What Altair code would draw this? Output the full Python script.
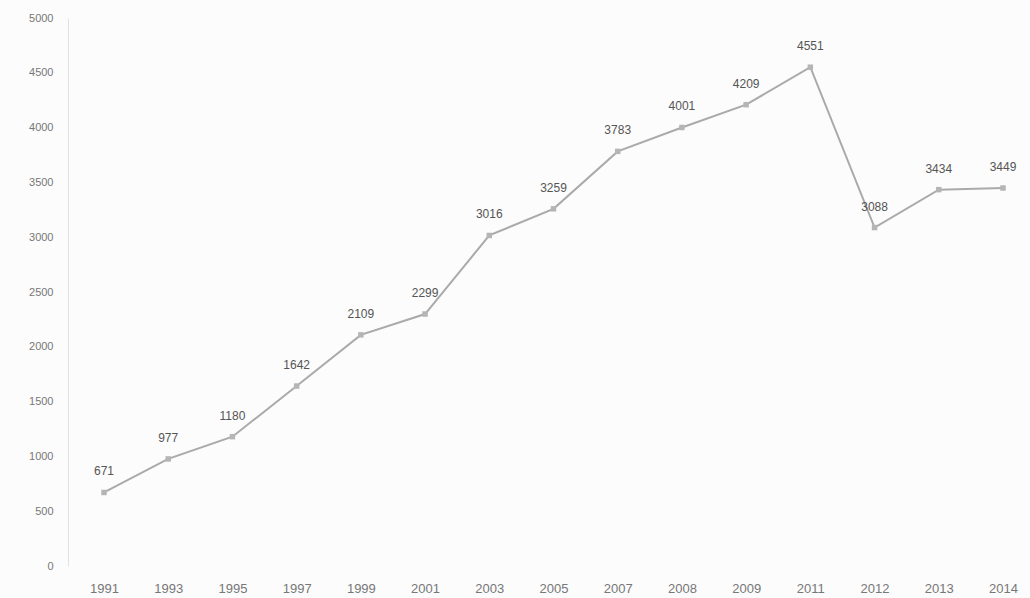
import altair as alt
import pandas as pd

years = ["1991", "1993", "1995", "1997", "1999", "2001", "2003", "2005",
         "2007", "2008", "2009", "2011", "2012", "2013", "2014"]
values = [671, 977, 1180, 1642, 2109, 2299, 3016, 3259, 3783, 4001, 4209,
          4551, 3088, 3434, 3449]

df = pd.DataFrame({"year": years, "value": values})

x_enc = alt.X("year:N", sort=years,
              scale=alt.Scale(type="point", range=[36, 935], padding=0),
              axis=alt.Axis(title=None, labelAngle=0, ticks=False, domain=False,
                            labelFontSize=13, labelColor="#777777",
                            labelFont="Liberation Sans", labelPadding=16))
y_enc = alt.Y("value:Q",
              scale=alt.Scale(domain=[0, 5000], nice=False),
              axis=alt.Axis(title=None, values=list(range(0, 5001, 500)),
                            format="d",
                            grid=False, ticks=False, domain=True,
                            domainColor="#e2e2e2", labelFontSize=11,
                            labelColor="#777777", labelFont="Liberation Sans",
                            labelPadding=15))

base = alt.Chart(df).encode(x=x_enc, y=y_enc)

line = base.mark_line(color="#aaaaaa", strokeWidth=2)
pts = base.mark_point(shape="square", filled=True, color="#b5b5b5", size=30, opacity=1)
labels = base.mark_text(dy=-21, fontSize=12, color="#555555",
                        font="Liberation Sans").encode(text="value:Q")

chart = (line + pts + labels).properties(
    width=958, height=548,
    autosize=alt.AutoSizeParams(type="none"),
    padding={"left": 68, "top": 18, "right": 4, "bottom": 32},
    background="#fcfcfc",
).configure_view(stroke=None)

chart.save("out.html", embed_options={"renderer": "svg", "actions": False})
